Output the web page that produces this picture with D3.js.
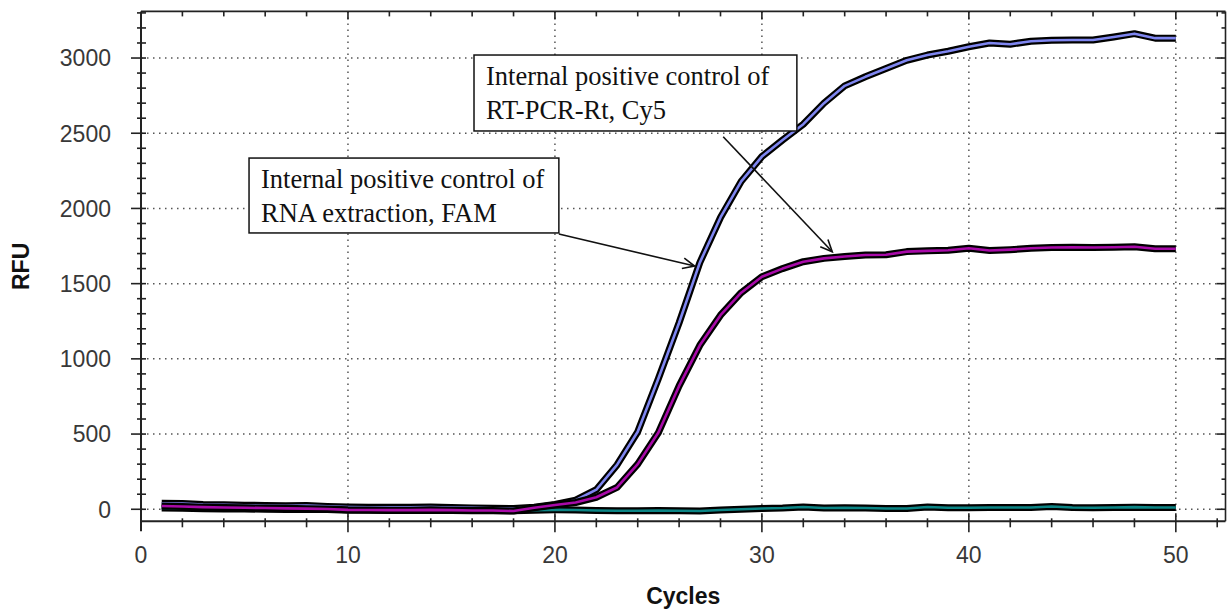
<!DOCTYPE html>
<html><head><meta charset="utf-8">
<script src="https://cdn.jsdelivr.net/npm/d3@7/dist/d3.min.js"></script>
<style>body{margin:0;background:#fff}svg{display:block}</style>
</head><body>
<svg id="chart" width="1230" height="612"></svg>
<script>
// ---------- data ----------
const cycles = [1,2,3,4,5,6,7,8,9,10,11,12,13,14,15,16,17,18,19,20,21,22,23,24,25,26,27,28,29,30,31,32,33,34,35,36,37,38,39,40,41,42,43,44,45,46,47,48,49,50];
const famRFU = [40,38,32,30,27,25,23,25,19,15,13,13,13,15,11,9,7,5,14,32,60,130,295,515,870,1240,1640,1940,2180,2345,2455,2560,2700,2815,2875,2930,2985,3020,3045,3075,3100,3092,3112,3118,3120,3120,3140,3162,3132,3132];
const cy5RFU = [22,18,14,12,10,8,6,4,2,-4,-5,-6,-6,-4,-6,-8,-8,-12,10,28,45,80,145,300,510,820,1090,1290,1440,1546,1600,1646,1668,1680,1690,1692,1713,1718,1722,1735,1720,1726,1735,1740,1742,1740,1742,1745,1732,1732];
const ntcRFU = [8,6,4,2,2,0,-2,0,-2,-6,-6,-8,-8,-6,-8,-10,-10,-10,-6,-4,-5,-8,-10,-10,-8,-10,-12,-5,0,5,8,15,8,10,8,5,5,15,10,10,12,12,12,18,12,10,12,14,12,12];
const xTickLabels = [0,10,20,30,40,50];
const yTickLabels = [0,500,1000,1500,2000,2500,3000];
const xLabel = "Cycles";
const yLabel = "RFU";
const notes = [
  {lines:["Internal positive control of","RNA extraction, FAM"], x0:5.22, x1:20.19, y0:2335, y1:1837, from:[20.19,1830], to:[26.75,1617]},
  {lines:["Internal positive control of","RT-PCR-Rt, Cy5"], x0:16.09, x1:31.69, y0:3020, y1:2515, from:[28.13,2477], to:[33.40,1712]}
];

// ---------- layout ----------
const svg = d3.select("#chart");
const L = 141, R = 1225.5, T = 11.4, B = 521.3;
const x = d3.scaleLinear().domain([0, 52.4]).range([L, R]);
const y = d3.scaleLinear().domain([-80, 3310]).range([B, T]);

// grid
const grid = svg.append("g").attr("stroke","#555").attr("stroke-width",1.5).attr("stroke-dasharray","1.5,4.5");
grid.selectAll("line.v").data(xTickLabels.filter(d=>d>0)).join("line")
  .attr("x1",d=>x(d)).attr("x2",d=>x(d)).attr("y1",T).attr("y2",B);
grid.selectAll("line.h").data(yTickLabels).join("line")
  .attr("x1",L).attr("x2",R).attr("y1",d=>y(d)).attr("y2",d=>y(d));

// frame
const frame = svg.append("g").attr("stroke","#222").attr("fill","none");
frame.append("line").attr("x1",L).attr("x2",L).attr("y1",T).attr("y2",B+10).attr("stroke-width",2);
frame.append("line").attr("x1",L).attr("x2",R).attr("y1",B).attr("y2",B).attr("stroke-width",2);
frame.append("line").attr("x1",L).attr("x2",R).attr("y1",T).attr("y2",T).attr("stroke-width",1.6);
frame.append("line").attr("x1",R).attr("x2",R).attr("y1",T).attr("y2",B).attr("stroke-width",1.6);

// ticks
const xMinor = d3.range(0, 53, 2);
const yMinor = d3.range(0, 3301, 100);
const tk = svg.append("g").attr("stroke","#222").attr("stroke-width",1.6);
tk.selectAll("line.bx").data(xMinor.filter(d=>d>0)).join("line")
  .attr("x1",d=>x(d)).attr("x2",d=>x(d))
  .attr("y1",d=>B-(d%10===0?8:3)).attr("y2",d=>B+(d%10===0?11:6));
tk.selectAll("line.tx").data(xMinor.filter(d=>d>0)).join("line")
  .attr("x1",d=>x(d)).attr("x2",d=>x(d))
  .attr("y1",T).attr("y2",d=>T+(d%10===0?8:5));
tk.selectAll("line.ly").data(yMinor).join("line")
  .attr("y1",d=>y(d)).attr("y2",d=>y(d))
  .attr("x1",d=>L-(d%500===0?10:4)).attr("x2",L+5);
tk.selectAll("line.ry").data(yMinor).join("line")
  .attr("y1",d=>y(d)).attr("y2",d=>y(d))
  .attr("x1",d=>R-(d%500===0?9:4)).attr("x2",R);

// tick labels
const lab = svg.append("g").attr("font-family","'Liberation Sans', Arial, sans-serif").attr("font-size",23).attr("fill","#383838");
lab.selectAll("text.x").data(xTickLabels).join("text")
  .attr("x",d=>x(d)).attr("y",B+42).attr("text-anchor","middle").text(d=>d);
lab.selectAll("text.y").data(yTickLabels).join("text")
  .attr("x",L-30).attr("y",d=>y(d)).attr("dy","0.36em").attr("text-anchor","end").text(d=>d);

// axis titles
svg.append("text").attr("x",(L+R)/2).attr("y",604).attr("text-anchor","middle")
  .attr("font-family","'Liberation Sans', Arial, sans-serif").attr("font-weight","bold").attr("font-size",23).attr("fill","#111").text(xLabel);
svg.append("text").attr("transform",`translate(29,${(T+B)/2}) rotate(-90)`).attr("text-anchor","middle")
  .attr("font-family","'Liberation Sans', Arial, sans-serif").attr("font-weight","bold").attr("font-size",23).attr("fill","#111").text(yLabel);

// curves
const series = [
  {v:ntcRFU, c:"#0c8585"},
  {v:famRFU, c:"#7f86f0"},
  {v:cy5RFU, c:"#a80aa8"}
];
const line = d3.line().x((d,i)=>x(cycles[i])).y(d=>y(d));
const cg = svg.append("g").attr("fill","none").attr("stroke-linejoin","round").attr("stroke-linecap","butt");
series.forEach(s=>{
  cg.append("path").datum(s.v).attr("d",line).attr("stroke","#000").attr("stroke-width",7);
  cg.append("path").datum(s.v).attr("d",line).attr("stroke",s.c).attr("stroke-width",2.6);
});

// annotations
const ag = svg.append("g");
notes.forEach(n=>{
  const bx = x(n.x0), by = y(n.y0), bw = x(n.x1)-x(n.x0), bh = y(n.y1)-y(n.y0);
  ag.append("rect").attr("x",bx).attr("y",by).attr("width",bw).attr("height",bh)
    .attr("fill","#fff").attr("stroke","#111").attr("stroke-width",1.5);
  n.lines.forEach((t,i)=>{
    ag.append("text").attr("x",bx+12).attr("y",by+30+i*34)
      .attr("font-family","'Liberation Serif', 'Times New Roman', serif").attr("font-size",26.5).attr("fill","#111").text(t);
  });
  const x1=x(n.from[0]), y1=y(n.from[1]), x2=x(n.to[0]), y2=y(n.to[1]);
  ag.append("line").attr("x1",x1).attr("y1",y1).attr("x2",x2).attr("y2",y2).attr("stroke","#111").attr("stroke-width",1.6);
  const ang = Math.atan2(y2-y1, x2-x1), hl = 13, ha = 0.42;
  const p = [[x2-hl*Math.cos(ang-ha), y2-hl*Math.sin(ang-ha)],[x2,y2],[x2-hl*Math.cos(ang+ha), y2-hl*Math.sin(ang+ha)]];
  ag.append("path").attr("d",d3.line()(p)).attr("fill","none").attr("stroke","#111").attr("stroke-width",1.6);
});
</script>
</body></html>
